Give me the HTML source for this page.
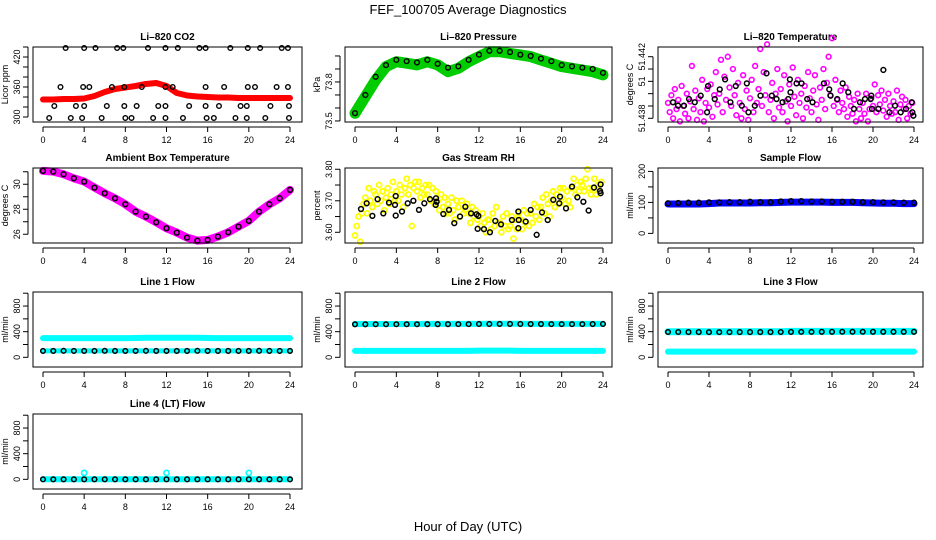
<!DOCTYPE html>
<html><head><meta charset="utf-8"><style>
html,body{margin:0;padding:0;background:#fff;}
svg{display:block;font-family:"Liberation Sans",Arial,sans-serif;}
</style></head><body>
<svg id="chart" width="936" height="540" viewBox="0 0 936 540">
<text x="468" y="14" text-anchor="middle" font-size="13">FEF_100705  Average Diagnostics</text>
<text x="468" y="531" text-anchor="middle" font-size="13">Hour of Day (UTC)</text>
</svg>
<script>
// ---------- data ----------
const xTicks = [0,4,8,12,16,20,24];
const hoursHourly = [0,1,2,3,4,5,6,7,8,9,10,11,12,13,14,15,16,17,18,19,20,21,22,23,24];

// CO2
const co2Band = [335,335,336,336,337,342,350,356,359,362,366,368,362,348,343,341,340,339,339,338,338,338,338,338,338];
const co2BlackH = [2.2,4.0,5.1,7.2,7.8,10.2,11.9,13.1,15.2,15.8,18.2,19.9,21.1,23.2,23.8, 1.7,3.9,4.5,6.7,7.9,9.6,11.9,12.6,15.8,17.6,19.9,20.6,22.7,23.8, 1.1,3.2,4.0,6.2,7.9,9.1,11.2,11.9,14.2,15.8,17.1,19.2,19.8,22.1,23.9, 0.6,2.7,3.8,5.7,8.0,8.6,10.7,11.9,13.6,15.9,16.6,18.7,19.8,21.6,23.9];
const co2BlackV = [438,438,438,438,438,438,438,438,438,438,438,438,438,438,438, 360,360,360,360,360,360,360,360,360,360,360,360,360,360, 322,322,322,322,322,322,322,322,322,322,322,322,322,322,322, 298,298,298,298,298,298,298,298,298,298,298,298,298,298,298];

// Pressure
const presBand = [73.559,73.687,73.815,73.918,73.956,73.944,73.931,73.956,73.931,73.879,73.905,73.956,73.995,74.033,74.033,74.02,74.008,73.995,73.969,73.944,73.918,73.905,73.892,73.879,73.854];
const presBlack = [73.56,73.70,73.84,73.93,73.97,73.96,73.95,73.97,73.94,73.91,73.92,73.97,74.01,74.04,74.04,74.03,74.01,74.00,73.98,73.96,73.93,73.92,73.91,73.90,73.87];

// Li-820 temperature (10-min samples)
const tempMag = [51.4390,51.4384,51.4395,51.4380,51.4399,51.4386,51.4392,51.4378,51.4401,51.4388,51.4383,51.4396,
51.4380,51.4391,51.4414,51.4386,51.4398,51.4379,51.4393,51.4384,51.4405,51.4378,51.4390,51.4399,
51.4387,51.4402,51.4381,51.4395,51.4410,51.4389,51.4396,51.4418,51.4384,51.4407,51.4392,51.4420,
51.4400,51.4388,51.4412,51.4395,51.4382,51.4403,51.4390,51.4380,51.4408,51.4386,51.4398,51.4379,
51.4393,51.4405,51.4384,51.4414,51.4390,51.4399,51.4425,51.4388,51.4410,51.4395,51.4428,51.4384,
51.4392,51.4403,51.4380,51.4396,51.4412,51.4387,51.4399,51.4384,51.4408,51.4391,51.4378,51.4402,
51.4388,51.4413,51.4394,51.4382,51.4405,51.4390,51.4396,51.4380,51.4401,51.4387,51.4410,51.4393,
51.4384,51.4398,51.4408,51.4389,51.4379,51.4400,51.4392,51.4412,51.4386,51.4403,51.4420,51.4395,
51.4432,51.4388,51.4405,51.4392,51.4384,51.4398,51.4390,51.4386,51.4400,51.4381,51.4394,51.4388,
51.4383,51.4392,51.4378,51.4396,51.4386,51.4380,51.4390,51.4383,51.4396,51.4378,51.4386,51.4393,
51.4388,51.4402,51.4384,51.4395,51.4389,51.4398,51.4385,51.4392,51.4381,51.4396,51.4388,51.4383,
51.4391,51.4384,51.4398,51.4379,51.4389,51.4394,51.4386,51.4392,51.4380,51.4388,51.4383,51.4390];
const tempBlackH = [0.49,0.98,1.56,2.05,2.61,3.19,3.81,3.91,4.56,5.05,5.57,6.09,6.61,7.2,7.69,7.85,8.47,9.02,9.61,10.13,10.59,11.17,11.73,11.89,11.95,12.54,13.03,13.58,14.1,15.21,15.73,15.86,16.51,17.04,17.59,18.14,18.73,19.22,19.77,19.84,19.9,20.52,21.01,21.6,22.15,22.7,23.22,23.78,23.84,23.94];
const tempBlackV = [51.43904,51.43882,51.43882,51.43925,51.43904,51.43947,51.43839,51.4401,51.43925,51.43988,51.44053,51.43904,51.4401,51.43882,51.44027,51.43839,51.43882,51.43947,51.44092,51.43947,51.43925,51.43904,51.43925,51.44053,51.43969,51.44027,51.44027,51.43925,51.43904,51.44027,51.43988,51.43947,51.43925,51.44027,51.43969,51.43861,51.43904,51.43925,51.43925,51.43947,51.43861,51.43861,51.44114,51.43839,51.43882,51.43839,51.43861,51.43904,51.43839,51.43817];

// Ambient box temperature
const ambBand = [31.07,31.01,30.8,30.48,30.21,29.73,29.28,28.88,28.4,27.81,27.41,26.96,26.48,26.13,25.73,25.49,25.55,25.81,26.16,26.61,27.07,27.81,28.4,28.88,29.55];

// Gas stream RH (10-min samples)
const rhYellow = [3.59,3.62,3.65,3.57,3.66,3.69, 3.71,3.66,3.74,3.70,3.68,3.73, 3.72,3.69,3.75,3.70,3.73,3.67, 3.71,3.74,3.69,3.72,3.76,3.70,
3.73,3.70,3.75,3.72,3.68,3.74, 3.77,3.72,3.75,3.62,3.74,3.76, 3.73,3.76,3.71,3.74,3.72,3.75, 3.72,3.75,3.70,3.74,3.69,3.73,
3.70,3.67,3.72,3.68,3.71,3.66, 3.69,3.66,3.71,3.67,3.64,3.70, 3.68,3.65,3.70,3.66,3.67,3.69, 3.66,3.63,3.68,3.65,3.67,3.64,
3.65,3.62,3.66,3.63,3.60,3.64, 3.64,3.61,3.66,3.62,3.68,3.63, 3.63,3.60,3.65,3.62,3.66,3.61, 3.62,3.65,3.58,3.64,3.61,3.66,
3.64,3.61,3.67,3.63,3.66,3.62, 3.66,3.63,3.69,3.65,3.68,3.64, 3.68,3.71,3.66,3.72,3.69,3.65, 3.70,3.73,3.68,3.72,3.69,3.74,
3.71,3.74,3.69,3.73,3.70,3.68, 3.74,3.77,3.72,3.75,3.73,3.76, 3.75,3.73,3.77,3.80,3.74,3.72, 3.74,3.77,3.72,3.75,3.73,3.76];
const rhBlackH = [0.58,1.13,1.68,2.19,2.74,3.29,3.87,3.94,3.94,4.55,5.1,5.65,6.19,6.71,7.26,7.81,7.84,7.9,8.55,9.1,9.61,10.16,10.68,11.23,11.77,11.87,11.94,12.48,13.06,13.58,14.13,15.19,15.81,15.84,15.81,16.52,17,17.58,18.1,18.65,19.19,19.77,19.84,20.42,21,21.52,22.1,22.61,23.13,23.77,23.77,23.71];
const rhBlackV = [3.674,3.692,3.652,3.705,3.660,3.694,3.687,3.653,3.715,3.666,3.692,3.70,3.671,3.692,3.705,3.687,3.708,3.697,3.658,3.671,3.629,3.650,3.681,3.660,3.657,3.611,3.652,3.610,3.600,3.636,3.625,3.639,3.666,3.639,3.613,3.634,3.671,3.592,3.663,3.639,3.703,3.692,3.713,3.676,3.745,3.711,3.697,3.669,3.742,3.752,3.724,3.731];

// Sample flow
const sampleBand = [95,95,95,95,96,98,98,98,98,99,99,100,101,101,101,101,100,100,100,99,98,97,97,96,96];
const sampleBlack = [97,98,99,99,100,100,101,101,102,101,101,103,104,104,103,103,102,102,102,101,101,100,100,99,99];

// Line flows
const l1High = [300,300,300,300,300,300,300,300,300,302,305,306,306,306,306,306,302,300,300,300,300,300,300,300,300];
const l1Low = [100,100,100,100,100,100,100,100,100,100,100,100,100,100,100,100,100,100,100,100,100,100,100,100,100];
const l1Black = [100,100,101,100,100,100,101,100,100,100,101,100,100,100,100,101,100,100,100,100,100,101,100,100,100];
const l2High = [520,520,520,520,520,520,520,521,521,521,521,522,522,523,523,523,523,522,522,522,522,521,521,521,521];
const l2Low = [100,100,100,100,100,100,100,100,100,100,100,100,105,105,105,105,100,100,100,100,100,100,100,100,100];
const l2Black = [515,515,516,516,516,516,516,517,517,517,518,518,520,520,521,521,520,519,519,518,518,518,518,519,520];
const l3High = [400,400,400,400,400,400,400,400,400,400,400,400,405,405,405,405,405,405,405,405,405,405,405,405,405];
const l3Low = [90,90,90,90,90,90,90,90,90,90,90,90,90,90,90,90,90,90,90,90,90,90,90,90,90];
const l3Black = [395,395,394,394,393,393,393,394,394,394,394,395,396,397,397,398,398,399,399,399,398,398,398,398,398];
const l4Cyan = [0,0,0,0,0,0,0,0,0,0,0,0,0,0,0,0,0,0,0,0,0,0,0,0,0];
const l4Black = [0,0,0,0,0,0,0,0,0,0,0,0,0,0,0,0,0,0,0,0,0,0,0,0,0];
const l4SpikeH = [4,12,20];
const l4SpikeV = [100,100,100];

// ---------- drawing ----------
const NS = 'http://www.w3.org/2000/svg';
const svg = document.getElementById('chart');
function el(tag, attrs, parent){
  const e = document.createElementNS(NS, tag);
  for (const k in attrs) e.setAttribute(k, attrs[k]);
  (parent||svg).appendChild(e);
  return e;
}
const cols = [{l:33,r:302,x0:43,x24:290},{l:345,r:612,x0:355,x24:603},{l:658,r:923,x0:668,x24:914}];
const rows = [{t:47,b:122},{t:168,b:243},{t:292,b:367},{t:414,b:489}];

function panel(name, col, row, title, ylab, ymin, ymax, yticks, ylabels){
  const c = cols[col], r = rows[row];
  const g = el('g', {});
  
  
  const x = h => c.x0 + (c.x24 - c.x0) * h / 24;
  const y = v => r.b - (v - ymin) / (ymax - ymin) * (r.b - r.t);
  const t = el('text', {x:(c.l+c.r)/2, y:r.t-7, 'text-anchor':'middle', 'font-size':10, 'font-weight':'bold'}, g);
  t.textContent = title;
  
  
  const marks = el('g', {}, g);
  
  
  const box = el('rect', {x:c.l, y:r.t, width:c.r-c.l, height:r.b-r.t, fill:'none', stroke:'#000', 'stroke-width':1}, g);
  
  
  const xa = el('g', {}, g);
  
  
  el('line', {x1:x(0), x2:x(24), y1:r.b+5, y2:r.b+5, stroke:'#000'}, xa);
  xTicks.forEach(h => {
    el('line', {x1:x(h), x2:x(h), y1:r.b+5, y2:r.b+10, stroke:'#000'}, xa);
    const tl = el('text', {x:x(h), y:r.b+21, 'text-anchor':'middle', 'font-size':9}, xa);
    tl.textContent = h;
    
    
  });
  const ya = el('g', {}, g);
  
  
  const yy = yticks.map(y);
  el('line', {x1:c.l-5, x2:c.l-5, y1:Math.min(...yy), y2:Math.max(...yy), stroke:'#000'}, ya);
  yticks.forEach(v => el('line', {x1:c.l-5, x2:c.l-10, y1:y(v), y2:y(v), stroke:'#000'}, ya));
  ylabels.forEach(([v, s]) => {
    const tl = el('text', {x:0, y:0, 'text-anchor':'middle', 'font-size':9, transform:`translate(${c.l-13},${y(v)}) rotate(-90)`}, ya);
    tl.textContent = s;
    
    
  });
  const yl = el('text', {x:0, y:0, 'text-anchor':'middle', 'font-size':9, transform:`translate(${c.l-25},${(r.t+r.b)/2}) rotate(-90)`}, g);
  yl.textContent = ylab;
  
  
  return {x, y, marks};
}
function band(p, hs, vs, color, w, name){
  const pts = hs.map((h,i) => p.x(h).toFixed(1)+','+p.y(vs[i]).toFixed(1)).join(' ');
  const pl = el('polyline', {points:pts, fill:'none', stroke:color, 'stroke-width':w, 'stroke-linecap':'round', 'stroke-linejoin':'round'}, p.marks);
  
  
}
function pts(p, hs, vs, color, rad, sw, name){
  hs.forEach((h,i) => {
    const ci = el('circle', {cx:p.x(h), cy:p.y(vs[i]), r:rad, fill:'none', stroke:color, 'stroke-width':sw}, p.marks);
    
    
  });
}
const tenMin = tempMag.map((_, i) => i / 6);
const rhTime = rhYellow.map((_, i) => i / 6);

let p = panel('co2', 0, 0, 'Li\u2013820 CO2', 'Licor ppm', 290, 440, [300,320,340,360,380,400,420,440], [[300,'300'],[360,'360'],[420,'420']]);
band(p, hoursHourly, co2Band, '#ff0000', 6, 'co2-band');
pts(p, co2BlackH, co2BlackV, '#000', 2.3, 1.4, 'co2-point');

p = panel('pressure', 1, 0, 'Li\u2013820 Pressure', 'kPa', 73.492, 74.069, [73.5,73.6,73.7,73.8,73.9,74.0], [[73.5,'73.5'],[73.8,'73.8']]);
band(p, hoursHourly, presBand, '#00cc00', 11, 'pressure-band');
pts(p, hoursHourly, presBlack, '#000', 2.4, 1.4, 'pressure-point');

p = panel('li820-temp', 2, 0, 'Li\u2013820 Temperature', 'degrees C', 51.43776, 51.44263, [51.438,51.4388,51.4396,51.4404,51.4412,51.442], [[51.438,'51.438'],[51.4404,'51'],[51.442,'51.442']]);
pts(p, tenMin, tempMag, '#ff00ff', 2.4, 1.6, 'temp-point');
pts(p, tempBlackH, tempBlackV, '#000', 2.4, 1.5, 'temp-avg-point');

p = panel('ambient', 0, 1, 'Ambient Box Temperature', 'degrees C', 25.3, 31.3, [26,27,28,29,30,31], [[26,'26'],[28,'28'],[30,'30']]);
band(p, hoursHourly, ambBand, '#ff00ff', 8, 'ambient-band');
pts(p, hoursHourly, ambBand, '#000', 2.4, 1.5, 'ambient-point');

p = panel('rh', 1, 1, 'Gas Stream RH', 'percent', 3.566, 3.804, [3.60,3.65,3.70,3.75,3.80], [[3.60,'3.60'],[3.70,'3.70'],[3.80,'3.80']]);
pts(p, rhTime, rhYellow, '#ffff00', 2.5, 1.8, 'rh-point');
pts(p, rhBlackH, rhBlackV, '#000', 2.4, 1.5, 'rh-avg-point');

p = panel('sample-flow', 2, 1, 'Sample Flow', 'ml/min', -31, 211, [0,50,100,150,200], [[0,'0'],[100,'100'],[200,'200']]);
band(p, hoursHourly, sampleBand, '#0000ff', 7, 'sample-band');
pts(p, hoursHourly, sampleBlack, '#000', 2.4, 1.5, 'sample-point');

const fTicks = [0,200,400,600,800,1000], fLabels = [[0,'0'],[400,'400'],[800,'800']];
p = panel('line1', 0, 2, 'Line 1 Flow', 'ml/min', -151, 1019, fTicks, fLabels);
band(p, hoursHourly, l1High, '#00ffff', 6, 'line1-high-band');
band(p, hoursHourly, l1Low, '#00ffff', 5, 'line1-low-band');
pts(p, hoursHourly, l1Black, '#000', 2.3, 1.5, 'line1-point');

p = panel('line2', 1, 2, 'Line 2 Flow', 'ml/min', -151, 1019, fTicks, fLabels);
band(p, hoursHourly, l2High, '#00ffff', 6, 'line2-high-band');
band(p, hoursHourly, l2Low, '#00ffff', 6, 'line2-low-band');
pts(p, hoursHourly, l2Black, '#000', 2.3, 1.5, 'line2-point');

p = panel('line3', 2, 2, 'Line 3 Flow', 'ml/min', -151, 1019, fTicks, fLabels);
band(p, hoursHourly, l3High, '#00ffff', 7, 'line3-high-band');
band(p, hoursHourly, l3Low, '#00ffff', 6, 'line3-low-band');
pts(p, hoursHourly, l3Black, '#000', 2.3, 1.5, 'line3-point');

p = panel('line4', 0, 3, 'Line 4 (LT) Flow', 'ml/min', -151, 1019, fTicks, fLabels);
band(p, hoursHourly, l4Cyan, '#00ffff', 6, 'line4-band');
pts(p, hoursHourly, l4Black, '#000', 2.3, 1.5, 'line4-point');
pts(p, l4SpikeH, l4SpikeV, '#00ffff', 2.6, 1.6, 'line4-spike');
</script>
</body></html>
